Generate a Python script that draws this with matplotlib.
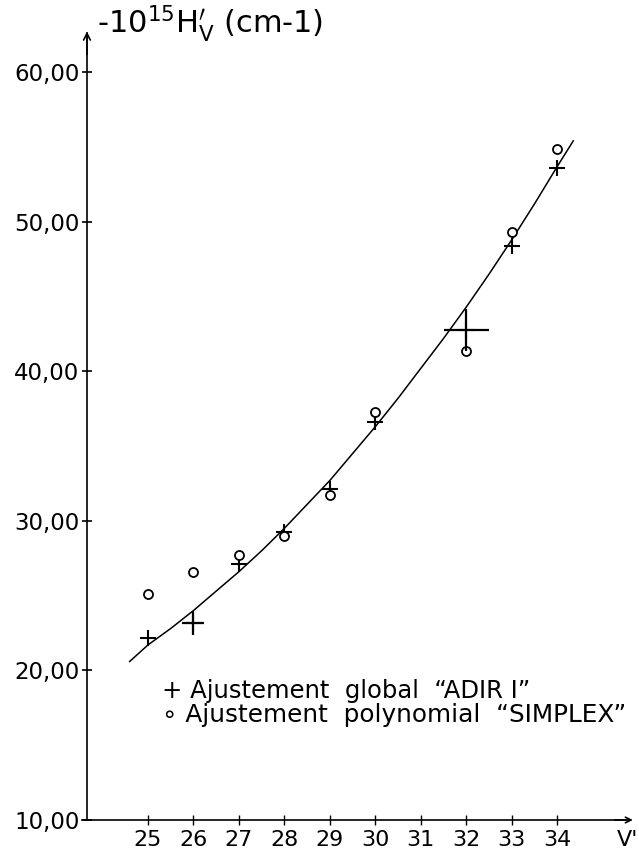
import matplotlib.pyplot as plt
import numpy as np

# niveaux vibrationnels et constantes -10^15 H'v (cm-1)
v = [25, 26, 27, 28, 29, 30, 32, 33, 34]
h_adir = [22.2, 23.2, 27.1, 29.25, 32.1, 36.6, 42.75, 48.4, 53.6]
h_simplex = [25.1, 26.6, 27.7, 29.0, 31.7, 37.3, 41.35, 49.3, 54.85]

# barres d'erreur (croix) sur deux points ADIR I
err_v = [26, 32]
err_h = [23.2, 42.75]
err_dv = [0.24, 0.5]
err_dh = [0.8, 1.4]

# courbe lissee
courbe_v = [24.6, 25.0, 25.5, 26.0, 26.5, 27.0, 27.5, 28.0, 28.5, 29.0, 29.5,
            30.0, 30.5, 31.0, 31.5, 32.0, 32.5, 33.0, 33.5, 34.0, 34.35]
courbe_h = [20.6, 21.7, 22.8, 24.0, 25.3, 26.6, 28.0, 29.5, 31.1, 32.7, 34.5,
            36.3, 38.2, 40.2, 42.2, 44.3, 46.5, 48.8, 51.2, 53.7, 55.4]

y_ticks = [10, 20, 30, 40, 50, 60]
y_labels = ['10,00', '20,00', '30,00', '40,00', '50,00', '60,00']
x_ticks = list(range(25, 35))

X0 = 23.66   # position de l'axe vertical

fig = plt.figure(figsize=(6.39, 8.57), dpi=100)
ax = fig.add_axes([0.1247, 0.0170, 0.8721, 0.9687])
ax.set_xlim(23.5, 35.75)
ax.set_ylim(8.5, 64)

for s in ['top', 'right']:
    ax.spines[s].set_visible(False)
ax.spines['left'].set_position(('data', X0))
ax.spines['bottom'].set_position(('data', 10))
ax.spines['left'].set_bounds(10, 62.6)
ax.spines['bottom'].set_bounds(23.55, 35.5)
ax.spines['left'].set_linewidth(1.2)
ax.spines['bottom'].set_linewidth(1.2)

# fleches au bout des axes
ax.annotate('', xy=(X0, 62.9), xytext=(X0, 61.0),
            arrowprops=dict(arrowstyle='->', lw=1.2, color='black',
                            mutation_scale=12))
ax.annotate('', xy=(35.72, 10), xytext=(35.2, 10),
            arrowprops=dict(arrowstyle='->', lw=1.2, color='black',
                            mutation_scale=10))

ax.set_yticks(y_ticks)
ax.set_yticklabels(y_labels)
ax.set_xticks(x_ticks)
ax.tick_params(axis='y', direction='inout', length=7, width=1.2, pad=2,
               labelsize=16.5)
ax.tick_params(axis='x', direction='inout', length=7, width=1.0, pad=4,
               labelsize=16)

# courbe et points
ax.plot(courbe_v, courbe_h, color='black', lw=1.1, clip_on=False)
ax.plot(v, h_adir, linestyle='none', marker='+', ms=11, mew=1.5,
        color='black')
ax.plot(v, h_simplex, linestyle='none', marker='o', ms=6.5, mew=1.3,
        mfc='white', mec='black')
ax.errorbar(err_v, err_h, xerr=err_dv, yerr=err_dh, fmt='none',
            ecolor='black', elinewidth=1.6, capsize=0)

# legende ecrite dans le graphe
ax.text(25.3, 18.6, '+ Ajustement  global  “ADIR I”', fontsize=17.5,
        va='center', ha='left')
ax.text(25.3, 17.0, '∘ Ajustement  polynomial  “SIMPLEX”', fontsize=17.8,
        va='center', ha='left')

# titres des axes
fig.text(97 / 639, 1 - 33 / 857, r'-10$^{15}$H$^{\prime}_{\mathrm{V}}$ (cm-1)',
         fontsize=22, ha='left', va='baseline')
ax.text(35.55, 8.65, "V'", fontsize=16, ha='center', va='center')

fig.savefig('out.png', dpi=100)
